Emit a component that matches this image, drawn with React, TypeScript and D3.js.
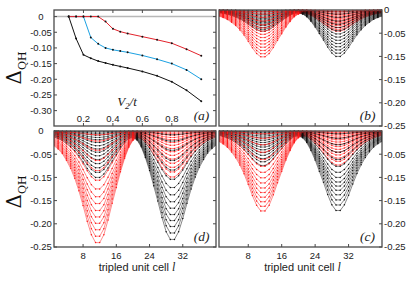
import React from 'react';
import * as d3 from 'd3';

// panel (a): gap vs V2/t
const v2Values = [0.1, 0.15, 0.2, 0.25, 0.3, 0.35, 0.4, 0.45, 0.5, 0.6, 0.7, 0.8, 0.9, 1.0];
const blackGap = [0, -0.07, -0.122, -0.133, -0.142, -0.148, -0.154, -0.159, -0.164, -0.175, -0.189, -0.208, -0.235, -0.27];
const blueGap = [0, 0, 0, -0.067, -0.087, -0.1, -0.106, -0.11, -0.114, -0.124, -0.136, -0.15, -0.17, -0.2];
const redGap = [0, 0, 0, 0, 0, -0.016, -0.039, -0.048, -0.054, -0.064, -0.074, -0.085, -0.104, -0.125];
const v2Ticks = [0.2, 0.4, 0.6, 0.8];
const gapTicks = [0, -0.05, -0.1, -0.15, -0.2, -0.25, -0.3];
const gapTickLabels = ['0', '-0.05', '-0.10', '-0.15', '-0.20', '-0.25', '-0.30'];

// panels (b)-(d): local gap along the tripled unit cells
const cells = d3.range(1, 41);
// dip shape, normalised (left dip; right dip is its mirror)
const dipShape = [0.13, 0.16, 0.2, 0.26, 0.33, 0.42, 0.53, 0.66, 0.8, 0.92, 0.99, 0.99, 0.92, 0.79, 0.64, 0.5, 0.36, 0.24, 0.14, 0.07,
  0.03, 0.01, 0.004, 0.001, 0, 0, 0, 0, 0, 0, 0, 0, 0, 0, 0, 0, 0, 0, 0, 0];
const cellTicks = [8, 16, 24, 32];
const dipTicks = [0, -0.05, -0.1, -0.15, -0.2, -0.25];
const dipTickLabels = ['0', '-0.05', '-0.15', '-0.15', '-0.20', '-0.25'];

const redDeepB = [0.102, 0.095, 0.088, 0.081, 0.074, 0.067, 0.06, 0.053, 0.046, 0.039, 0.032, 0.024, 0.016, 0.009, 0.004];
const redShallowB = [0.046, 0.042, 0.038, 0.034, 0.031, 0.028, 0.025, 0.022, 0.019, 0.016, 0.013, 0.01, 0.007, 0.004, 0.002];
const blackDeepB = [0.101, 0.094, 0.087, 0.08, 0.073, 0.066, 0.059, 0.052, 0.045, 0.038, 0.031, 0.024, 0.016, 0.009, 0.004];
const blackShallowB = [0.046, 0.042, 0.038, 0.034, 0.031, 0.028, 0.025, 0.022, 0.019, 0.016, 0.013, 0.01, 0.007, 0.004, 0.002];

const redDeepC = [0.174, 0.164, 0.154, 0.144, 0.134, 0.124, 0.113, 0.102, 0.09, 0.077, 0.062, 0.046, 0.03, 0.016, 0.006];
const redShallowC = [0.074, 0.066, 0.059, 0.052, 0.046, 0.04, 0.034, 0.029, 0.024, 0.019, 0.015, 0.011, 0.007, 0.004, 0.002];
const blackDeepC = [0.173, 0.161, 0.15, 0.139, 0.129, 0.12, 0.111, 0.101, 0.09, 0.077, 0.062, 0.046, 0.03, 0.016, 0.006];
const blackShallowC = [0.075, 0.067, 0.06, 0.053, 0.047, 0.041, 0.035, 0.03, 0.025, 0.02, 0.015, 0.011, 0.007, 0.004, 0.002];

const redDeepD = [0.243, 0.229, 0.215, 0.201, 0.187, 0.173, 0.158, 0.143, 0.126, 0.107, 0.086, 0.064, 0.042, 0.022, 0.008];
const redShallowD = [0.1, 0.089, 0.079, 0.07, 0.061, 0.053, 0.045, 0.038, 0.031, 0.025, 0.019, 0.014, 0.009, 0.005, 0.002];
const blackDeepD = [0.236, 0.222, 0.208, 0.195, 0.182, 0.168, 0.154, 0.139, 0.123, 0.105, 0.085, 0.064, 0.042, 0.022, 0.008];
const blackShallowD = [0.101, 0.09, 0.08, 0.071, 0.062, 0.054, 0.046, 0.039, 0.032, 0.025, 0.019, 0.014, 0.009, 0.005, 0.002];

const SANS = '"Liberation Sans", Arial, Helvetica, sans-serif';
const SERIF = '"Liberation Serif", "Times New Roman", serif';
const FRAME = '#4a4a4a';

const DeltaLabel = ({ x, y }) => (
  <text transform={`translate(${x},${y}) rotate(-90)`} textAnchor="middle" fontFamily={'"DejaVu Serif", serif'} fontSize={20} fill="#111">
    Δ<tspan fontSize={11} dy={5}>QH</tspan>
  </text>
);

const PanelA = () => {
  const x0 = 54, x1 = 216, y0 = 10, y1 = 126;
  const x = d3.scaleLinear().domain([0, 1.1]).range([x0, x1]);
  const y = d3.scaleLinear().domain([-0.349, 0.021]).range([y1, y0]);
  const line = d3.line<number>().x((d, i) => x(v2Values[i])).y(d => y(d));
  const series = [
    { vals: blackGap, color: '#111' },
    { vals: blueGap, color: '#1ba1e2' },
    { vals: redGap, color: '#e3232c' },
  ];
  return (
    <g>
      <line x1={x0} x2={x1} y1={y(0)} y2={y(0)} stroke="#b8b8b8" strokeWidth={1.5} />
      {series.map((s, k) => (
        <g key={k}>
          <path d={line(s.vals)} fill="none" stroke={s.color} strokeWidth={1} />
          {s.vals.map((v, i) => (
            <circle key={i} cx={x(v2Values[i])} cy={y(v)} r={1} fill="#111" />
          ))}
        </g>
      ))}
      {gapTicks.map((t, i) => (
        <g key={i}>
          <line x1={x0} x2={x0 + 3} y1={y(t)} y2={y(t)} stroke={FRAME} />
          <line x1={x1 - 3} x2={x1} y1={y(t)} y2={y(t)} stroke={FRAME} />
          <text x={41} y={y(t)} dy="0.35em" textAnchor="middle" fontFamily={SANS} fontSize={9.5} fill="#222">{gapTickLabels[i]}</text>
        </g>
      ))}
      {v2Ticks.map((t, i) => (
        <g key={i}>
          <line x1={x(t)} x2={x(t)} y1={y0} y2={y0 + 3} stroke={FRAME} />
          <line x1={x(t)} x2={x(t)} y1={y1 - 3} y2={y1} stroke={FRAME} />
          <text x={x(t)} y={121.5} textAnchor="middle" fontFamily={SANS} fontSize={9.5} fill="#222">{t.toFixed(1)}</text>
        </g>
      ))}
      <text x={127} y={106} textAnchor="middle" fontFamily={SERIF} fontStyle="italic" fontSize={13} fill="#222">
        V<tspan fontSize={9} dy={3}>2</tspan><tspan dy={-3}>/t</tspan>
      </text>
      <text x={201.5} y={119.5} textAnchor="middle" fontFamily={SERIF} fontStyle="italic" fontSize={13.5} fill="#222">(a)</text>
      <rect x={x0} y={y0} width={x1 - x0} height={y1 - y0} fill="none" stroke={FRAME} strokeWidth={1.3} />
    </g>
  );
};

const DipPanel = ({ x0, x1, y0, y1, redDeep, redShallow, blackDeep, blackShallow, label, side, zeroLabel, xLabels }) => {
  const x = d3.scaleLinear().domain([1, 40]).range([x0, x1]);
  const y = d3.scaleLinear().domain([-0.25, 0]).range([y1, y0]);
  const curve = (left: number, right: number) =>
    cells.map((c, i) => ({ c, v: -(left * dipShape[i] + right * dipShape[39 - i]) }));
  const line = d3.line<{ c: number; v: number }>().x(d => x(d.c)).y(d => y(d.v));
  const clipId = `clip-${label}`;
  const drawCurve = (pts, color, key) => (
    <g key={key}>
      <path d={line(pts)} fill="none" stroke={color} strokeWidth={0.5} />
      {pts.map((p, i) => (
        <circle key={i} cx={x(p.c)} cy={y(p.v)} r={0.75} fill={color} />
      ))}
    </g>
  );
  return (
    <g>
      <defs>
        <clipPath id={clipId}>
          <rect x={x0} y={y0 - 1} width={x1 - x0} height={y1 - y0 + 1} />
        </clipPath>
      </defs>
      <g clipPath={`url(#${clipId})`}>
        {redDeep.map((d, k) => (
          <g key={k}>
            {drawCurve(curve(blackShallow[k], blackDeep[k]), '#111', 'b')}
            {drawCurve(curve(d, redShallow[k]), '#ff1a1a', 'r')}
          </g>
        ))}
      </g>
      {dipTicks.map((t, i) => (
        <g key={i}>
          <line x1={x1 - 3} x2={x1} y1={y(t)} y2={y(t)} stroke={FRAME} />
          {side === 'left' && <line x1={x0} x2={x0 + 3} y1={y(t)} y2={y(t)} stroke={FRAME} />}
          {(i > 0 || zeroLabel) && (
            side === 'left'
              ? <text x={41} y={y(t)} dy="0.35em" textAnchor="middle" fontFamily={SANS} fontSize={9.5} fill="#222">{dipTickLabels[i]}</text>
              : <text x={384} y={y(t)} dy="0.35em" textAnchor="start" fontFamily={SANS} fontSize={9.5} fill="#222">{dipTickLabels[i]}</text>
          )}
        </g>
      ))}
      {cellTicks.map((t, i) => (
        <g key={i}>
          <line x1={x(t)} x2={x(t)} y1={y0} y2={y0 + 3} stroke={FRAME} />
          <line x1={x(t)} x2={x(t)} y1={y1 - 3} y2={y1} stroke={FRAME} />
          {xLabels && <text x={x(t)} y={258.5} textAnchor="middle" fontFamily={SANS} fontSize={9.5} fill="#222">{t}</text>}
        </g>
      ))}
      {xLabels && (
        <text x={(x0 + x1) / 2 + 2} y={271} textAnchor="middle" fontFamily={SANS} fontSize={11} fill="#222">
          tripled unit cell <tspan fontFamily={SERIF} fontStyle="italic" fontSize={12}>l</tspan>
        </text>
      )}
      <text x={x1 - 14.5} y={y1 - 6.5} textAnchor="middle" fontFamily={SERIF} fontStyle="italic" fontSize={13.5} fill="#222">({label})</text>
      <rect x={x0} y={y0} width={x1 - x0} height={y1 - y0} fill="none" stroke={FRAME} strokeWidth={1.3} />
    </g>
  );
};

export default function App() {
  return (
    <svg width={415} height={283} style={{ position: 'absolute', left: 0, top: 0, background: '#fff' }}>
      <rect width={415} height={283} fill="#fff" />
      <PanelA />
      <DipPanel x0={219} x1={382} y0={10} y1={126} redDeep={redDeepB} redShallow={redShallowB}
        blackDeep={blackDeepB} blackShallow={blackShallowB} label="b" side="right" zeroLabel xLabels={false} />
      <DipPanel x0={54} x1={216} y0={131} y1={247} redDeep={redDeepD} redShallow={redShallowD}
        blackDeep={blackDeepD} blackShallow={blackShallowD} label="d" side="left" zeroLabel xLabels />
      <DipPanel x0={219} x1={382} y0={131} y1={247} redDeep={redDeepC} redShallow={redShallowC}
        blackDeep={blackDeepC} blackShallow={blackShallowC} label="c" side="right" zeroLabel={false} xLabels />
      <DeltaLabel x={21} y={68} />
      <DeltaLabel x={21} y={192} />
    </svg>
  );
}
